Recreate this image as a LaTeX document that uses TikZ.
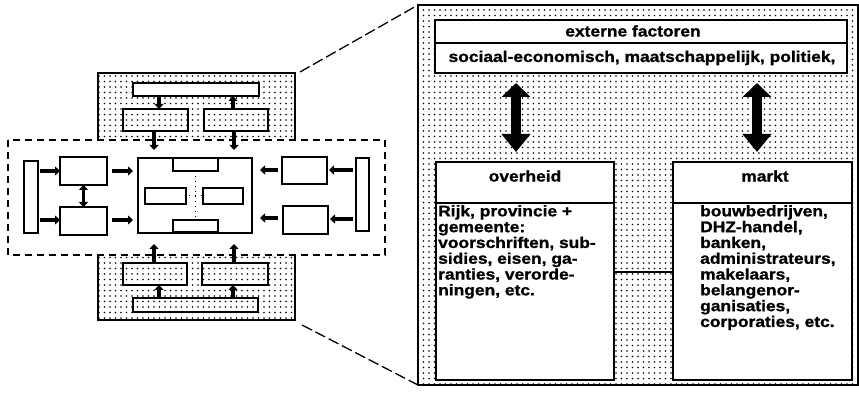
\documentclass[tikz,border=0pt]{standalone}
\usepackage{fontspec}
\newfontfamily\hvb{Liberation Sans}[FakeStretch=1.13,FakeBold=1.2]
\usetikzlibrary{arrows.meta,patterns.meta}
\tikzset{
  dotfill/.style={pattern={Dots[distance=5.5pt,radius=0.9pt]}, pattern color=black},
  wbox/.style={draw, line width=1.8pt, fill=white, inner sep=0pt, outer sep=0pt},
  dbox/.style={draw, line width=1.8pt, preaction={fill=white}, dotfill, inner sep=0pt, outer sep=0pt},
  rbox/.style={draw, line width=1.5pt, fill=white, inner sep=0pt, outer sep=0pt},
  sarrow/.style={line width=3.8pt, -{Triangle[length=5pt,width=9pt]}},
  sdarrow/.style={line width=3.8pt, {Triangle[length=5pt,width=9pt]}-{Triangle[length=5pt,width=9pt]}},
  barrow/.style={line width=10pt, {Triangle[length=14pt,width=28pt]}-{Triangle[length=18pt,width=28pt]}},
  txt/.style={font=\hvb\bfseries\fontsize{15.4}{15.8}\selectfont, inner sep=0pt},
  btxt/.style={txt, align=left, anchor=north west},
  zoomline/.style={line width=1.3pt, dash pattern=on 11pt off 4pt},
}
\begin{document}
\begin{tikzpicture}[x=1pt,y=-1pt]
\useasboundingbox (0,0) rectangle (859,395);

% ---------- left schematic ----------
% top dotted zone
\fill[dotfill] (98,73) rectangle (295,140);
\draw[line width=1.8pt] (98,140) -- (98,73) -- (295,73) -- (295,140);
% bottom dotted zone
\fill[dotfill] (98,255) rectangle (295,320);
\draw[line width=1.8pt] (98,255) -- (98,320) -- (295,320) -- (295,255);
% dashed central zone
\draw[line width=1.5pt, dash pattern=on 7pt off 5pt] (8,140) rectangle (385,255);

% top group
\node[wbox, minimum width=126pt, minimum height=13pt] (topbar) at (196,89.5) {};
\node[dbox, minimum width=65pt, minimum height=22pt] (tl) at (155.5,120) {};
\node[dbox, minimum width=64pt, minimum height=22pt] (tr) at (236,120) {};
\draw[sarrow] (topbar.south -| 159,0) -- (tl.north -| 159,0);
\draw[sarrow] (tr.north -| 233,0) -- (topbar.south -| 233,0);
\coordinate (ta1) at (154,150);
\coordinate (ta2) at (234,150);
\draw[sarrow] (tl.south -| ta1) -- (ta1);
\draw[sarrow] (tr.south -| ta2) -- (ta2);

% bottom group
\node[dbox, minimum width=64pt, minimum height=22pt] (bl) at (155,274) {};
\node[dbox, minimum width=66pt, minimum height=22pt] (br) at (235,274) {};
\node[dbox, minimum width=125pt, minimum height=14pt] (bbar) at (195.5,305) {};
\draw[sarrow] (bbar.north -| 159,0) -- (bl.south -| 159,0);
\draw[sarrow] (bbar.north -| 233,0) -- (br.south -| 233,0);
\coordinate (ba1) at (154,244);
\coordinate (ba2) at (234,244);
\draw[sarrow] (bl.north -| ba1) -- (ba1);
\draw[sarrow] (br.north -| ba2) -- (ba2);

% centre box
\node[wbox, minimum width=114pt, minimum height=75pt] (ctr) at (195,195.5) {};
\node[wbox, minimum width=45pt, minimum height=13pt] (ctop) at (195.5,164.5) {};
\node[wbox, minimum width=45pt, minimum height=12pt] (cbot) at (195.5,226) {};
\node[wbox, minimum width=41pt, minimum height=16pt] (cleft) at (165.5,196) {};
\node[wbox, minimum width=40pt, minimum height=16pt] (cright) at (223,196) {};
\draw[line width=1pt, dash pattern=on 1pt off 4pt] (ctop.south -| 195,0) -- (cbot.north -| 195,0);
\draw[line width=1pt, dash pattern=on 1pt off 5pt] ([xshift=3pt]cleft.east) -- (cright.west);

% left group
\node[wbox, minimum width=14pt, minimum height=72pt] (lbar) at (31,197) {};
\node[wbox, minimum width=47pt, minimum height=28pt] (l1) at (83.5,171) {};
\node[wbox, minimum width=47pt, minimum height=28pt] (l2) at (83.5,221) {};
\draw[sarrow, shorten <=2pt] (lbar.east |- 0,171) -- (l1.west |- 0,171);
\draw[sarrow, shorten <=2pt] (lbar.east |- 0,220) -- (l2.west |- 0,220);
\draw[sdarrow] (l1.south) -- (l2.north);
\draw[sarrow, shorten <=5pt, shorten >=5pt] (l1.east |- 0,171) -- (ctr.west |- 0,171);
\draw[sarrow, shorten <=5pt, shorten >=5pt] (l2.east |- 0,220) -- (ctr.west |- 0,220);

% right group
\node[wbox, minimum width=13pt, minimum height=73pt] (rbar) at (362.5,194.5) {};
\node[wbox, minimum width=45pt, minimum height=27pt] (r1) at (304.5,170.5) {};
\node[wbox, minimum width=45pt, minimum height=28pt] (r2) at (305.5,220) {};
\draw[sarrow, shorten <=3pt, shorten >=2pt] (rbar.west |- 0,170) -- (r1.east |- 0,170);
\draw[sarrow, shorten <=3pt, shorten >=2pt] (rbar.west |- 0,219) -- (r2.east |- 0,219);
\draw[sarrow, shorten <=4pt, shorten >=8pt] (r1.west |- 0,170) -- (ctr.east |- 0,170);
\draw[sarrow, shorten <=5pt, shorten >=8pt] (r2.west |- 0,218) -- (ctr.east |- 0,218);

% ---------- right enlarged panel ----------
\node[draw, line width=1.5pt, dotfill, inner sep=0pt, outer sep=0pt,
      minimum width=440pt, minimum height=380pt] (big) at (638,195) {};
\draw[zoomline] (300,72) -- (big.north west);
\draw[zoomline] (302,325) -- (big.south west);

\node[rbox, minimum width=412pt, minimum height=53pt] (ext) at (641,46.5) {};
\draw[line width=1.3pt] (ext.west |- 0,43) -- (ext.east |- 0,43);
\node[txt] (extt) at (633,31) {externe factoren};
\node[txt] (exts) at (642,58) {sociaal-economisch, maatschappelijk, politiek,};

\node[rbox, minimum width=178pt, minimum height=218pt] (ovh) at (525,271) {};
\node[rbox, minimum width=179pt, minimum height=218pt] (mkt) at (762.5,271) {};
\draw[line width=1.3pt] (ovh.west |- 0,203) -- (ovh.east |- 0,203);
\draw[line width=1.3pt] (mkt.west |- 0,203) -- (mkt.east |- 0,203);
\draw[line width=1.5pt] (ovh.east |- 0,272) -- (mkt.west |- 0,272);

\draw[barrow, shorten <=10pt, shorten >=10pt] (ext.south -| 516,0) -- (ovh.north -| 516,0);
\draw[barrow, shorten <=10pt, shorten >=10pt] (ext.south -| 757,0) -- (mkt.north -| 757,0);

\node[txt] (ovht) at (525,176) {overheid};
\node[txt] (mktt) at (765,176) {markt};

\node[btxt] (ovhb) at (438,205) {Rijk, provincie +\\gemeente:\\voorschriften, sub-\\sidies, eisen, ga-\\ranties, verorde-\\ningen, etc.};
\node[btxt] (mktb) at (700,205) {bouwbedrijven,\\DHZ-handel,\\banken,\\administrateurs,\\makelaars,\\belangenor-\\ganisaties,\\corporaties, etc.};
\end{tikzpicture}
\end{document}
